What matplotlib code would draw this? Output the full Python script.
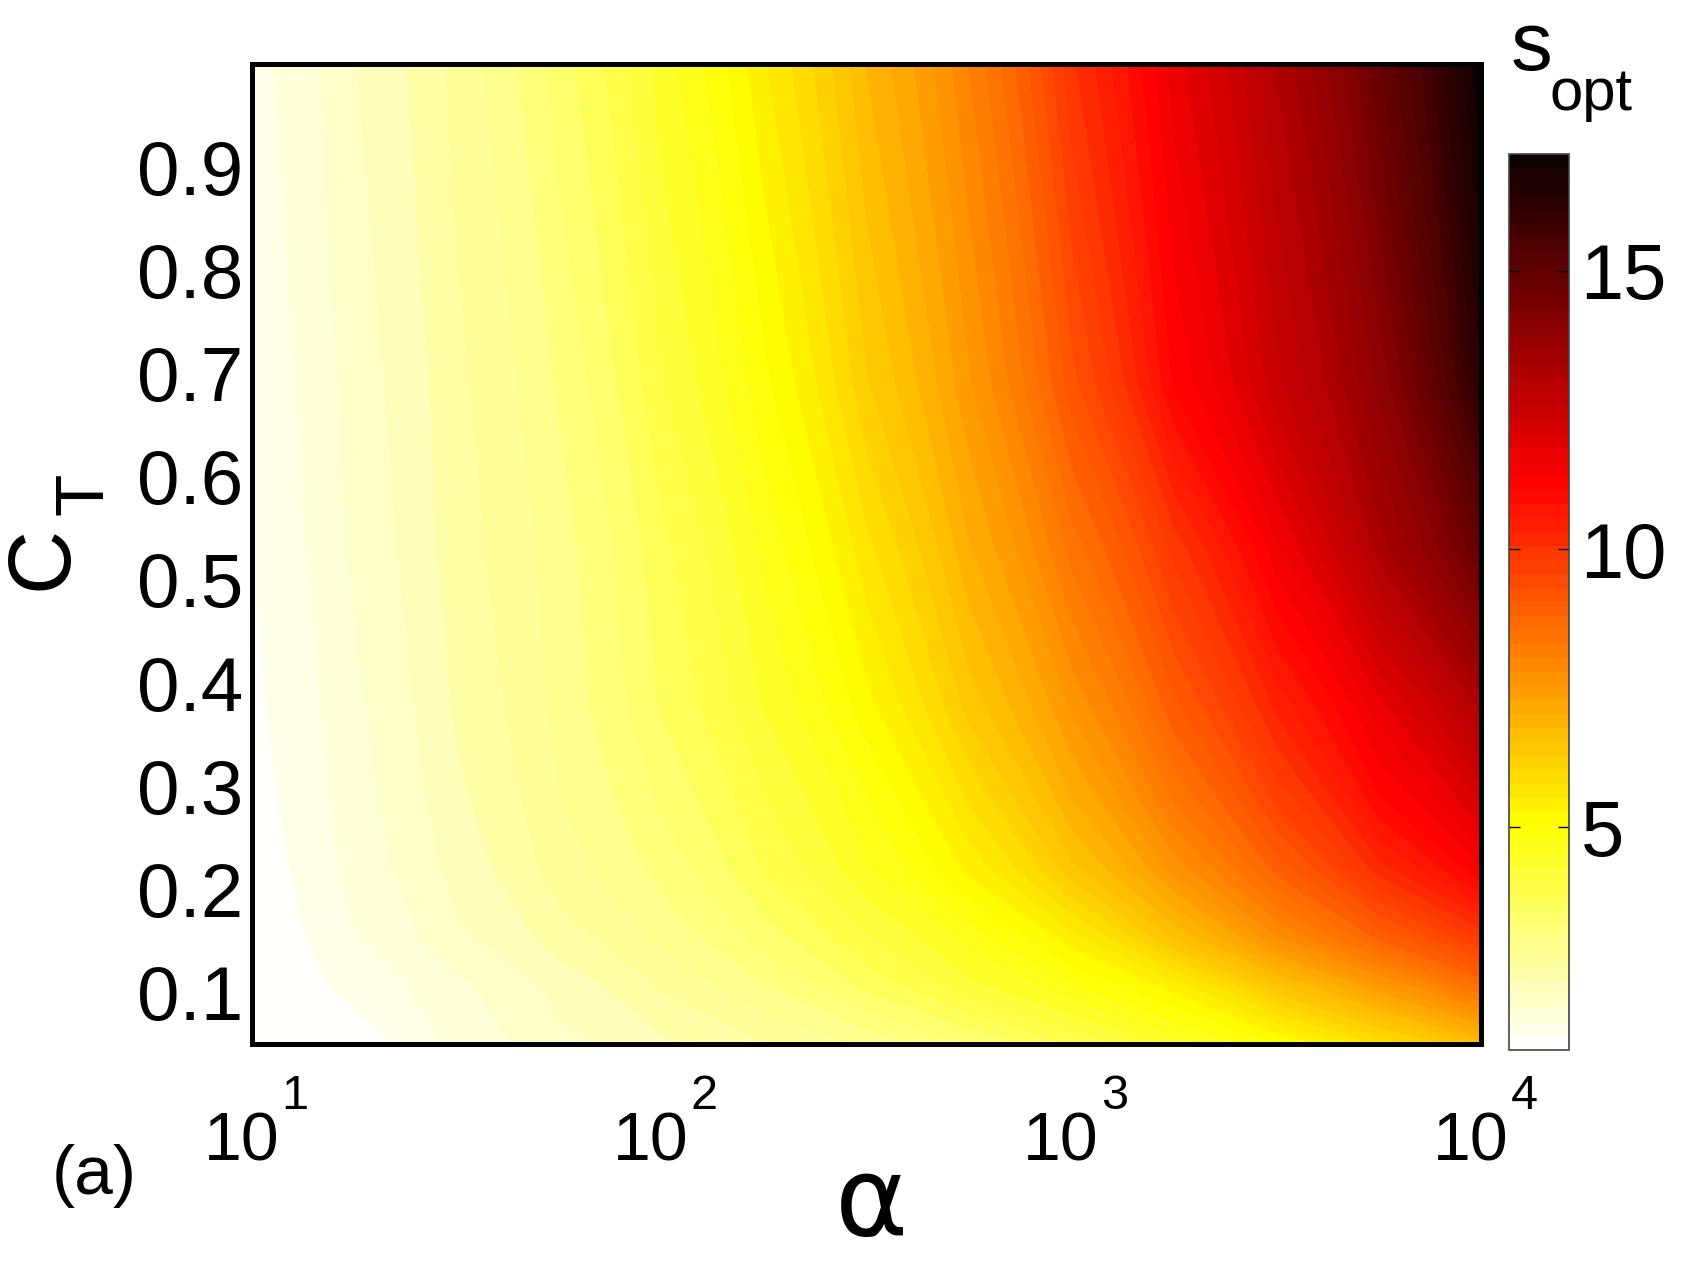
import numpy as np
import matplotlib
matplotlib.use("Agg")
import matplotlib.pyplot as plt
from matplotlib.transforms import blended_transform_factory, offset_copy

plt.rcParams['font.family'] = ['Liberation Sans', 'DejaVu Sans']

# alpha values (columns) and C_T values (rows) of the read-off grid
alpha = [10, 17.8, 31.6, 56.2, 100, 178, 316, 562, 1000, 1778, 3162, 5623, 10000]
c_t = [0.05, 0.107, 0.155, 0.22, 0.285, 0.38, 0.53, 0.69, 1.0]

s_005 = [1.0, 1.1, 1.6, 1.93, 2.2, 2.5, 2.82, 3.25, 3.8, 4.4, 5.0, 5.8, 6.6]
s_010 = [1.02, 1.35, 1.7, 2.1, 2.55, 3.0, 3.6, 4.2, 4.75, 5.4, 6.5, 7.5, 8.6]
s_015 = [1.05, 1.5, 1.95, 2.4, 2.85, 3.4, 4.0, 4.65, 5.45, 6.6, 7.8, 8.9, 9.9]
s_022 = [1.1, 1.6, 2.1, 2.65, 3.1, 3.8, 4.5, 5.35, 6.45, 7.65, 8.9, 10.2, 11.3]
s_028 = [1.15, 1.65, 2.2, 2.75, 3.3, 4.0, 4.75, 5.8, 7.0, 8.3, 9.6, 11.0, 12.1]
s_038 = [1.2, 1.7, 2.3, 2.85, 3.55, 4.3, 5.2, 6.4, 7.6, 9.0, 10.4, 11.75, 13.2]
s_053 = [1.25, 1.8, 2.4, 2.9, 3.7, 4.6, 5.7, 7.0, 8.4, 9.9, 11.5, 13.2, 14.9]
s_069 = [1.3, 1.87, 2.45, 3.05, 4.0, 4.96, 6.25, 7.5, 9.2, 11.1, 12.5, 13.9, 16.3]
s_100 = [1.4, 2.0, 2.6, 3.4, 4.4, 5.5, 6.8, 8.05, 10.0, 11.7, 13.1, 14.8, 17.1]

x_ticks = [10, 100, 1000, 10000]
x_exps = ['1', '2', '3', '4']
ct_ticks = [0.1, 0.2, 0.3, 0.4, 0.5, 0.6, 0.7, 0.8, 0.9]
cbar_ticks = [5, 10, 15]

S = np.array([s_005, s_010, s_015, s_022, s_028, s_038, s_053, s_069, s_100])
A, C = np.meshgrid(alpha, c_t)

fig = plt.figure(figsize=(16.84, 12.62), dpi=100)
ax = fig.add_axes([0.1497, 0.1727, 0.730, 0.7765])
cax = fig.add_axes([0.896, 0.168, 0.036, 0.71])

levels = np.linspace(1, 17.1, 65)
cs = ax.contourf(A, C, S, levels=levels, cmap=plt.get_cmap('hot_r'))
ax.set_xscale('log')
ax.set_xlim(10, 10000)
ax.set_ylim(0.05, 1.0)
ax.set_yticks(ct_ticks)
ax.set_yticklabels(['%.1f' % v for v in ct_ticks])
ax.set_xticks(x_ticks)
ax.minorticks_off()
ax.tick_params(axis='y', length=0, pad=6.5, labelsize=55)
ax.tick_params(axis='x', length=0, labelbottom=False)
for sp in ax.spines.values():
    sp.set_linewidth(3.6)
    sp.set_color('black')

# x tick labels as 10 with a raised exponent
trans = blended_transform_factory(ax.transData, ax.transAxes)
for t, e in zip(x_ticks, x_exps):
    ax.text(t, 0, '10', fontsize=49, ha='right', va='baseline',
            transform=offset_copy(trans, fig=fig, x=27, y=-116, units='dots'))
    ax.text(t, 0, e, fontsize=35, ha='left', va='baseline',
            transform=offset_copy(trans, fig=fig, x=29, y=-65, units='dots'))

# axis labels
fig.text(43 / 1684, 1 - 558 / 1262, 'C', fontsize=64, rotation=90,
         ha='center', va='center')
fig.text(84 / 1684, 1 - 494 / 1262, 'T', fontsize=50, rotation=90,
         ha='center', va='center')
fig.text(872 / 1684, 1 - 1235 / 1262, u'\u03b1', fontsize=80, ha='center',
         va='baseline', family=['DejaVu Sans'])
fig.text(94 / 1684, 1 - 1194 / 1262, '(a)', fontsize=50, ha='center',
         va='baseline')

cb = fig.colorbar(cs, cax=cax, ticks=cbar_ticks)
cb.outline.set_linewidth(1.2)
cb.outline.set_edgecolor('#444444')
cax.tick_params(direction='in', left=True, right=True, length=8, width=1,
                labelsize=56, pad=8)
fig.text(1511 / 1684, 1 - 70 / 1262, 's', fontsize=60, ha='left', va='baseline')
fig.text(1550 / 1684, 1 - 110 / 1262, 'opt', fontsize=43, ha='left',
         va='baseline')

fig.savefig('out.png', dpi=100)
